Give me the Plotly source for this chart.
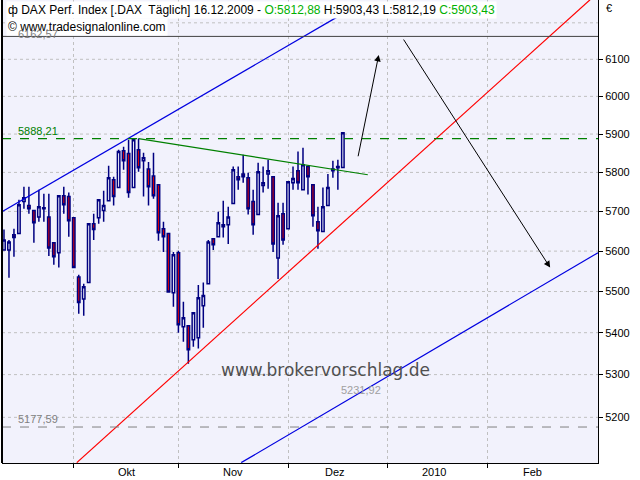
import math
import plotly.graph_objects as go

# trading-day offsets relative to 1 Dec 2009 (last = 16.12.2009)
days = list(range(-57, 12))
opens = [5603,5603,5641,5644,5725,5715,5702,5686,5709,5686,5621,5596,5740,5738,5684,5536,5482,5522,5669,5684,
         5702,5727,5781,5761,5856,5849,5761,5859,5830,5809,5791,5768,5656,5644,5497,5596,5414,5417,5383,5388,
         5465,5519,5631,5636,5661,5666,5720,5789,5796,5786,5725,5692,5766,5796,5789,5583,5694,5656,5773,5804,
         5755,5815,5768,5674,5649,5715,5804,5812,5812.88]
highs = [5654,5628,5656,5730,5763,5763,5702,5755,5745,5745,5621,5740,5763,5748,5684,5541,5519,5669,5694,5730,
         5753,5817,5789,5859,5867,5885,5885,5888.21,5851,5827,5851,5768,5674,5644,5598,5601,5475,5417,5448,5516,
         5522,5628,5631,5699,5727,5712,5815,5815,5846,5799,5755,5825,5815,5833,5789,5722,5722,5776,5815,5854,
         5864,5815,5768,5712,5761,5796,5830,5833,5903.43]
lows = [5603,5534,5586,5644,5707,5694,5621,5674,5674,5588,5566,5559,5694,5636,5559,5446,5441,5522,5628,5669,
        5674,5727,5715,5761,5807,5735,5761,5802,5738,5715,5732,5626,5598,5497,5463,5400,5378,5326,5366,5362,
        5412,5519,5603,5636,5634,5618,5720,5755,5773,5692,5641,5692,5748,5758,5598,5531,5616,5656,5755,5755,
        5755,5743,5661,5606,5649,5715,5786,5755,5812.19]
closes = [5628,5623,5634,5717,5735,5707,5671,5712,5707,5608,5586,5740,5717,5676,5559,5473,5512,5669,5654,5730,
          5715,5786,5738,5854,5830,5748,5885,5812,5838,5763,5740,5646,5636,5499,5591,5419,5436,5359,5448,5485,
          5490,5623,5616,5671,5666,5686,5807,5781,5789,5707,5666,5802,5773,5804,5618,5689,5628,5776,5784,5773,
          5820,5789,5689,5651,5712,5761,5809,5815,5903.43]

month_bounds = [-43, -22, 0, 20, 40]
month_centers = [-32.4, -11, 9.4, 29.2, 49]
month_labels = ["Okt", "Nov", "Dez", "2010", "Feb"]
price_ticks = [5200, 5300, 5400, 5500, 5600, 5700, 5800, 5900, 6000, 6100]
grid_levels = price_ticks + [6200]

# drawing tools (day offset, price)
blue_upper = ([-57.4, 10.6], [5699, 6222])
blue_lower = ([-9.4, 62.2], [5096, 5596])
red_line = ([-42.4, 60.6], [5096, 6264])
green_line = ([-30, 16], [5888.21, 5794])
resistance = 5888.21
support = 5177.59
top_level = 6162.57
label_5231 = 5231.92
arrow1 = ((14, 5838), (18.2, 6112))
arrow2 = ((23, 6158), (52.6, 5559))

L = math.log10
XR = [-57.4, 62.2]
navy = "#000080"
F = "Liberation Sans"
fig = go.Figure()
fig.add_trace(go.Candlestick(x=days, open=opens, high=highs, low=lows, close=closes,
    increasing=dict(line=dict(color=navy, width=1.5), fillcolor="#ffffff"),
    decreasing=dict(line=dict(color=navy, width=1.5), fillcolor="#e00000"),
    whiskerwidth=0, showlegend=False, hoverinfo="skip"))
for (xs, ys), col in [(blue_upper, "#0000e0"), (blue_lower, "#0000e0"), (red_line, "#ff0000"), (green_line, "#008000")]:
    fig.add_trace(go.Scatter(x=xs, y=ys, mode="lines", line=dict(color=col, width=1.2), showlegend=False, hoverinfo="skip"))
fig.add_trace(go.Scatter(x=XR, y=[resistance]*2, mode="lines", line=dict(color="#008000", width=1.3, dash="dash"), showlegend=False))
fig.add_trace(go.Scatter(x=XR, y=[support]*2, mode="lines", line=dict(color="#808080", width=1, dash="dash"), showlegend=False))
fig.add_trace(go.Scatter(x=XR, y=[top_level]*2, mode="lines", line=dict(color="#404040", width=1), showlegend=False))

for (x0, y0), (x1, y1) in [arrow1, arrow2]:
    fig.add_annotation(x=x1, y=L(y1), ax=x0, ay=L(y0), xref="x", yref="y", axref="x", ayref="y",
                       showarrow=True, arrowhead=2, arrowsize=1.3, arrowwidth=1, arrowcolor="black", text="")

for lv in grid_levels:
    fig.add_shape(type="line", xref="paper", x0=0, x1=1, y0=lv, y1=lv, yref="y",
                  line=dict(color="#c0c0c0", width=1, dash="dot"), layer="below")

for c, t in zip(month_centers, month_labels):
    fig.add_annotation(x=c, y=0, yref="paper", yanchor="top", yshift=-1, text=t, showarrow=False,
                       font=dict(family=F, size=11, color="black"))

fig.add_annotation(x=-54.5, y=L(resistance), xanchor="left", yanchor="bottom", text="5888,21", showarrow=False,
                   font=dict(family=F, size=11, color="#008000"))
fig.add_annotation(x=-54.5, y=L(support), xanchor="left", yanchor="bottom", text="5177,59", showarrow=False,
                   font=dict(family=F, size=11, color="#808080"))
fig.add_annotation(x=14.6, y=L(label_5231), xanchor="center", yanchor="bottom", yshift=6, text="5231,92", showarrow=False,
                   font=dict(family=F, size=11, color="#a0a0a0"))
fig.add_annotation(x=7.6, y=L(5310), xanchor="center", yanchor="middle", text="www.brokervorschlag.de",
                   showarrow=False, font=dict(family="DejaVu Sans", size=17, color="#505050"))

hdr = ("\u0444 DAX Perf. Index [.DAX  Täglich] 16.12.2009 - <span style='color:#00b000'>O:5812,88</span> "
       "H:5903,43 L:5812,19 <span style='color:#00b000'>C:5903,43</span>")
fig.add_annotation(x=0.007, y=0.998, xref="paper", yref="paper", text=hdr, showarrow=False, xanchor="left", yanchor="top",
                   font=dict(family=F, size=12, color="black"), bgcolor="white", borderpad=1)
fig.add_annotation(x=0.007, y=0.962, xref="paper", yref="paper", text="\u00a9 www.tradesignalonline.com", showarrow=False,
                   xanchor="left", yanchor="top", font=dict(family=F, size=12, color="black"),
                   bgcolor="white", borderpad=1)
fig.add_annotation(x=-54.5, y=L(top_level), xanchor="left", yanchor="bottom", yshift=-6, text="6162,57", showarrow=False,
                   font=dict(family=F, size=11, color="#808080"))
fig.add_annotation(x=1.01, y=1.0, xref="paper", yref="paper", text="\u20ac", showarrow=False,
                   xanchor="left", yanchor="top", font=dict(family=F, size=11, color="black"))

fig.update_layout(
    width=640, height=480, margin=dict(l=2, r=42, t=0, b=17),
    paper_bgcolor="white", plot_bgcolor="#f2f2fc",
    xaxis=dict(range=XR, tickvals=month_bounds, ticktext=[""]*5, showgrid=True, gridcolor="#c0c0c0",
               griddash="dot", ticks="outside", ticklen=4, tickcolor="black", zeroline=False,
               showline=True, linecolor="black", rangeslider=dict(visible=False)),
    yaxis=dict(type="log", range=[3.70716, 3.79681], side="right", tickvals=price_ticks,
               ticktext=[str(v) for v in price_ticks], showgrid=False, ticks="outside", ticklen=4,
               tickcolor="black", showline=True, linecolor="black",
               tickfont=dict(family=F, size=11, color="black")),
)
fig.add_shape(type="line", xref="paper", yref="paper", x0=0, x1=0, y0=0, y1=1, line=dict(color="black", width=2))
fig.write_html("out.html", config={"displayModeBar": False},
               post_script="document.body.style.margin='0';document.body.style.overflow='hidden';")
